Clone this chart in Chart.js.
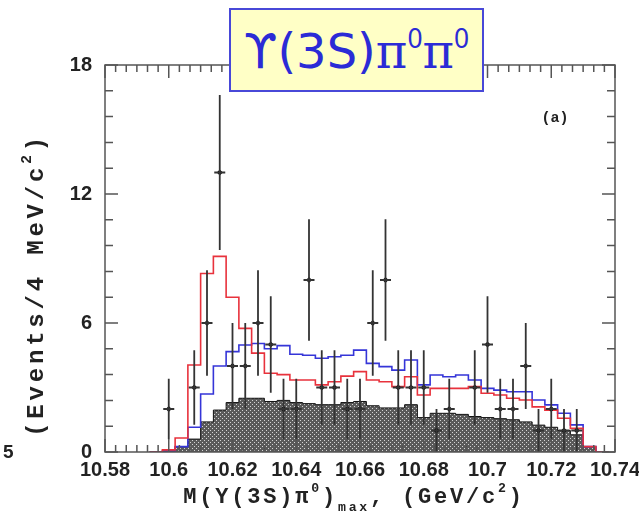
<!DOCTYPE html>
<html lang="en">
  <head>
    <meta charset="utf-8" />
    <title>Y(3S) pi0 pi0 mass</title>
    <style>
      * {
        margin: 0;
        padding: 0;
      }
      body {
        background: white;
      }
      .chartBox {
        position: relative;
        width: 639px;
        height: 518px;
        overflow: hidden;
      }
      #myChart {
        position: absolute;
        left: 0;
        top: 0;
      }
      .titleBox {
        position: absolute;
        left: 229px;
        top: 8px;
        width: 255px;
        height: 84px;
        box-sizing: border-box;
        border: 2px solid #4848d8;
        background: #ffffc6;
        color: #2b2bd6;
        font-family: "DejaVu Sans", sans-serif;
        font-size: 48px;
        line-height: 82px;
        text-align: center;
        white-space: nowrap;
      }
      .titleBox .pi {
        font-family: "DejaVu Serif", serif;
      }
      .titleBox .up {
        font-family: "Noto Sans", sans-serif;
        font-size: 0.55em;
        position: relative;
        top: -0.75em;
      }
      .yTitle {
        position: absolute;
        left: 36px;
        top: 285px;
        transform: translate(-50%, -50%) rotate(-90deg);
        font-family: "Liberation Mono", monospace;
        font-weight: bold;
        font-size: 24px;
        letter-spacing: 3.8px;
        color: #222;
        white-space: nowrap;
      }
      .xTitle {
        position: absolute;
        left: 354px;
        top: 497px;
        transform: translate(-50%, -50%);
        font-family: "Liberation Mono", monospace;
        font-weight: bold;
        font-size: 22px;
        letter-spacing: 2.8px;
        color: #222;
        white-space: nowrap;
      }
      .up2 {
        font-size: 0.6em;
        position: relative;
        top: -0.8em;
      }
      .down2 {
        font-size: 0.6em;
        position: relative;
        top: 0.6em;
      }
      .panel {
        position: absolute;
        left: 555px;
        top: 118px;
        transform: translate(-50%, -50%);
        font-family: "Liberation Mono", monospace;
        font-weight: bold;
        font-size: 15px;
        color: #222;
      }
      .stray {
        position: absolute;
        left: 3px;
        top: 452px;
        transform: translateY(-50%);
        font-family: "Liberation Sans", sans-serif;
        font-weight: bold;
        font-size: 19px;
        color: #222;
      }
    </style>
  </head>
  <body>
    <div class="chartBox">
      <canvas id="myChart" width="639" height="518"></canvas>
      <div class="titleBox">ϒ(3S)<span class="pi">π</span><span class="up">0</span><span class="pi">π</span><span class="up">0</span></div>
      <div class="yTitle">(Events/4 MeV/c<span class="up2">2</span>)</div>
      <div class="xTitle">M(Υ(3S)π<span class="up2">0</span>)<span class="down2">max</span>,  (GeV/c<span class="up2">2</span>)</div>
      <div class="panel">(a)</div>
      <div class="stray">5</div>
    </div>

    <script src="https://cdn.jsdelivr.net/npm/chart.js"></script>

    <script>
      // bin centres of the 4 MeV histograms (GeV/c^2)
      const massBins = [
        10.596, 10.6, 10.604, 10.608, 10.612, 10.616, 10.62, 10.624, 10.628,
        10.632, 10.636, 10.64, 10.644, 10.648, 10.652, 10.656, 10.66, 10.664,
        10.668, 10.672, 10.676, 10.68, 10.684, 10.688, 10.692, 10.696, 10.7,
        10.704, 10.708, 10.712, 10.716, 10.72, 10.724, 10.728, 10.732, 10.736,
      ];
      const binWidth = 0.004;

      // shaded (background) histogram
      const shadedHist = [
        0, 0.05, 0.25, 0.6, 1.4, 1.95, 2.3, 2.5, 2.5, 2.35, 2.4, 2.3, 2.25, 2.2,
        2.2, 2.3, 2.35, 2.15, 2.05, 2.05, 2.2, 1.6, 1.8, 1.8, 1.75, 1.65, 1.6,
        1.55, 1.5, 1.4, 1.25, 1.15, 1.0, 0.8, 0.25, 0,
      ];
      // red curve
      const redHist = [
        0, 0.1, 0.65, 4.05, 8.3, 9.1, 7.2, 5.75, 4.6, 3.66, 3.6, 3.35, 3.35,
        3.12, 3.27, 3.53, 3.74, 3.35, 3.27, 3.04, 3.5, 2.65, 2.96, 2.96, 2.96,
        3.04, 2.73, 2.65, 2.5, 2.42, 2.1, 1.95, 1.57, 1.1, 0.25, 0,
      ];
      // blue curve
      const blueHist = [
        0, 0.05, 0.25, 1.15, 2.7, 4.0, 4.67, 4.98, 5.05, 4.8, 4.95, 4.55, 4.5,
        4.36, 4.43, 4.5, 4.74, 4.12, 3.97, 3.81, 4.28, 3.12, 3.58, 3.5, 3.58,
        3.35, 2.96, 2.88, 2.8, 2.8, 2.42, 2.19, 1.8, 1.26, 0.25, 0,
      ];

      // data points with errors
      const eventMass = [
        10.6, 10.604, 10.608, 10.612, 10.616, 10.62, 10.624, 10.628, 10.632,
        10.636, 10.64, 10.644, 10.648, 10.652, 10.656, 10.66, 10.664, 10.668,
        10.672, 10.676, 10.68, 10.684, 10.688, 10.692, 10.696, 10.7, 10.704,
        10.708, 10.712, 10.716, 10.72, 10.724, 10.728, 10.732,
      ];
      const eventCounts = [
        2, 0, 3, 6, 13, 4, 4, 6, 5, 2, 2, 8, 3, 3, 2, 2, 6, 8, 3, 3, 3, 1, 2, 0,
        3, 5, 2, 2, 4, 1, 2, 1, 1, 0,
      ];
      const eventErrors = [
        1.41, 0, 1.73, 2.45, 3.61, 2, 2, 2.45, 2.24, 1.41, 1.41, 2.83, 1.73,
        1.73, 1.41, 1.41, 2.45, 2.83, 1.73, 1.73, 1.73, 1, 1.41, 0, 1.73, 2.24,
        1.41, 1.41, 2, 1, 1.41, 1, 1, 0,
      ];

      const xTickValues = [10.58, 10.6, 10.62, 10.64, 10.66, 10.68, 10.7, 10.72, 10.74];
      const xTickLabels = ["10.58", "10.6", "10.62", "10.64", "10.66", "10.68", "10.7", "10.72", "10.74"];
      const yTickValues = [0, 6, 12, 18];
      const yTickLabels = ["0", "6", "12", "18"];

      // histogram -> step points at the bin low edges
      function histPoints(values) {
        const pts = values.map((v, i) => ({ x: massBins[i] - binWidth / 2, y: v }));
        pts.push({ x: massBins[massBins.length - 1] + binWidth / 2, y: 0 });
        return pts;
      }

      const canvas = document.getElementById("myChart");

      // dotted dark fill like the PAW hatch
      function hatch() {
        const c = document.createElement("canvas");
        c.width = 4;
        c.height = 4;
        const g = c.getContext("2d");
        g.fillStyle = "#5a5a5a";
        g.fillRect(0, 0, 4, 4);
        g.fillStyle = "#d4d4d4";
        g.fillRect(0, 0, 1, 1);
        g.fillRect(2, 2, 1, 1);
        return canvas.getContext("2d").createPattern(c, "repeat");
      }

      const tickFont = { family: "Liberation Sans", weight: "bold", size: 20 };

      // frame, inward ticks and error bars
      const physFrame = {
        id: "physFrame",
        afterDatasetsDraw(chart) {
          const {
            ctx,
            chartArea: { top, bottom, left, right },
            scales: { x, y },
          } = chart;
          ctx.save();

          ctx.strokeStyle = "#333";
          ctx.lineWidth = 1.8;
          eventCounts.forEach((n, i) => {
            if (!n) return;
            const px = x.getPixelForValue(eventMass[i]);
            const py = y.getPixelForValue(n);
            ctx.beginPath();
            ctx.moveTo(px, y.getPixelForValue(Math.max(0, n - eventErrors[i])));
            ctx.lineTo(px, y.getPixelForValue(n + eventErrors[i]));
            ctx.moveTo(px - 5.5, py);
            ctx.lineTo(px + 5.5, py);
            ctx.stroke();
          });

          ctx.strokeStyle = "#555";
          ctx.lineWidth = 1.5;
          ctx.strokeRect(left, top, right - left, bottom - top);

          ctx.beginPath();
          for (let i = 0; i <= 48; i++) {
            const px = x.getPixelForValue(10.58 + (i * 0.02) / 6);
            const len = i % 6 === 0 ? 13 : 7;
            ctx.moveTo(px, bottom);
            ctx.lineTo(px, bottom - len);
            ctx.moveTo(px, top);
            ctx.lineTo(px, top + len);
          }
          for (let i = 0; i <= 15; i++) {
            const py = y.getPixelForValue(i * 1.2);
            const len = i % 5 === 0 ? 13 : 8;
            ctx.moveTo(left, py);
            ctx.lineTo(left + len, py);
            ctx.moveTo(right, py);
            ctx.lineTo(right - len, py);
          }
          ctx.stroke();
          ctx.restore();
        },
      };

      const data = {
        datasets: [
          {
            label: "data",
            data: eventMass.map((m, i) => ({ x: m, y: eventCounts[i] })),
            showLine: false,
            pointStyle: "rectRot",
            pointRadius: (c) => (eventCounts[c.dataIndex] ? 3 : 0),
            pointBackgroundColor: "#000",
            pointBorderColor: "#000",
            pointBorderWidth: 0,
            order: 0,
          },
          {
            label: "red",
            data: histPoints(redHist),
            stepped: "before",
            borderColor: "#e8323c",
            borderWidth: 1.6,
            pointRadius: 0,
            fill: false,
            order: 1,
          },
          {
            label: "blue",
            data: histPoints(blueHist),
            stepped: "before",
            borderColor: "#3535d8",
            borderWidth: 1.6,
            pointRadius: 0,
            fill: false,
            order: 2,
          },
          {
            label: "shaded",
            data: histPoints(shadedHist),
            stepped: "before",
            borderColor: "#111",
            borderWidth: 1,
            backgroundColor: hatch(),
            pointRadius: 0,
            fill: "origin",
            order: 3,
          },
        ],
      };

      const config = {
        type: "line",
        data: data,
        options: {
          responsive: false,
          animation: false,
          layout: { padding: { top: 65, right: 24, bottom: 0, left: 0 } },
          plugins: {
            legend: { display: false },
            tooltip: { enabled: false },
          },
          scales: {
            x: {
              type: "linear",
              min: 10.58,
              max: 10.74,
              grid: { display: false, drawTicks: false },
              border: { display: false },
              afterBuildTicks: (s) => {
                s.ticks = xTickValues.map((v) => ({ value: v }));
              },
              afterFit: (s) => {
                s.height = 66;
                s.paddingLeft = 0;
                s.paddingRight = 0;
              },
              ticks: {
                autoSkip: false,
                maxRotation: 0,
                minRotation: 0,
                padding: 6,
                color: "#222",
                font: tickFont,
                callback: (v, i) => xTickLabels[i],
              },
            },
            y: {
              min: 0,
              max: 18,
              grid: { display: false, drawTicks: false },
              border: { display: false },
              afterBuildTicks: (s) => {
                s.ticks = yTickValues.map((v) => ({ value: v }));
              },
              afterFit: (s) => {
                s.width = 105;
                s.paddingTop = 0;
                s.paddingBottom = 0;
              },
              ticks: {
                padding: 13,
                color: "#222",
                font: tickFont,
                callback: (v, i) => yTickLabels[i],
              },
            },
          },
        },
        plugins: [physFrame],
      };

      const myChart = new Chart(canvas, config);
    </script>
  </body>
</html>
